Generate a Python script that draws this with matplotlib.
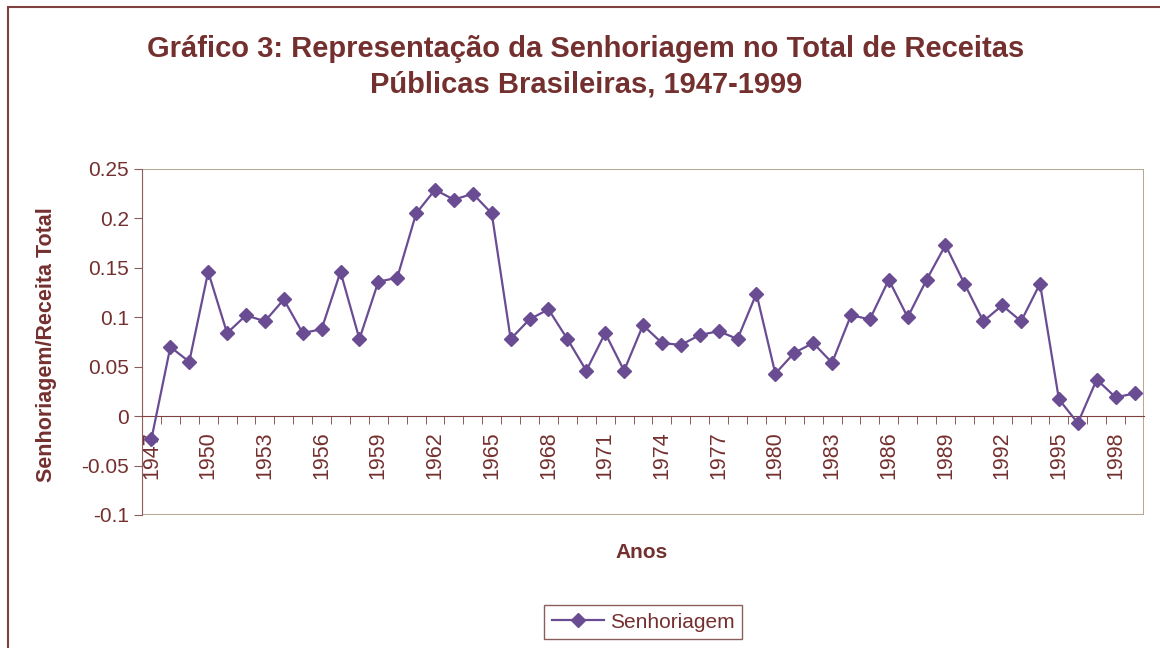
import matplotlib
matplotlib.use("Agg")
import matplotlib.pyplot as plt
import numpy as np
from matplotlib.ticker import FuncFormatter, FixedLocator
from matplotlib.patches import Rectangle

plt.rcParams['font.family'] = ['Liberation Sans', 'DejaVu Sans']

# Datos: senhoriagem / receita total, 1947-1999
anos = list(range(1947, 2000))
senhoriagem = [
    -0.023, 0.070, 0.055, 0.146, 0.084, 0.102, 0.096, 0.118, 0.084, 0.088,
    0.146, 0.078, 0.136, 0.140, 0.205, 0.229, 0.219, 0.225, 0.205, 0.078,
    0.098, 0.108, 0.078, 0.046, 0.084, 0.046, 0.092, 0.074, 0.072, 0.082,
    0.086, 0.078, 0.124, 0.043, 0.064, 0.074, 0.054, 0.102, 0.098, 0.138,
    0.100, 0.138, 0.173, 0.134, 0.096, 0.112, 0.096, 0.134, 0.017, -0.007,
    0.037, 0.019, 0.023,
]

titulo = "Gráfico 3: Representação da Senhoriagem no Total de Receitas\nPúblicas Brasileiras, 1947-1999"
granate = '#74302F'
morado = '#6A4C93'

fig = plt.figure(figsize=(11.6, 6.48), dpi=100)
ax = fig.add_axes([142/1160, 1-515/648, (1144-142)/1160, (515-169)/648])

x = np.arange(len(anos))
ax.plot(x, senhoriagem, color=morado, marker='D', markersize=7.5, linewidth=1.6,
        label='Senhoriagem', zorder=5, clip_on=False)

ax.set_xlim(-0.5, len(anos) - 0.5)
ax.set_ylim(-0.1, 0.25)
ax.set_yticks(np.arange(-0.1, 0.2501, 0.05))
ax.yaxis.set_major_formatter(FuncFormatter(lambda v, p: f'{round(v, 2):g}'))

# eje de categorías cruzando en cero
ax.spines['bottom'].set_position(('data', 0))
ax.spines['bottom'].set_color('#7F4040')
ax.spines['left'].set_color('#8B5E5E')
ax.spines['top'].set_visible(False)
ax.spines['right'].set_visible(False)
ax.add_patch(Rectangle((0, 0), 1, 1, transform=ax.transAxes, fill=False,
                       edgecolor='#B8A898', linewidth=1.5, zorder=1))

ax.set_xticks(x[::3])
ax.set_xticklabels([str(a) for a in anos[::3]], rotation=90)
ax.xaxis.set_minor_locator(FixedLocator(np.arange(0.5, len(anos) - 0.5, 1)))
ax.tick_params(axis='x', which='major', length=0, pad=11, labelsize=15.5, labelcolor=granate)
ax.tick_params(axis='x', which='minor', length=6, color='#7F4040', direction='out')
ax.tick_params(axis='y', length=6, color='#8B5E5E', labelsize=15, labelcolor=granate)

fig.text(0.505, 1-67/648, titulo, ha='center', va='center', fontsize=21,
         fontweight='bold', color=granate, linespacing=1.35)
fig.text(47/1160, 1-345/648, 'Senhoriagem/Receita Total', rotation=90, ha='center',
         va='center', fontsize=15.5, fontweight='bold', color=granate)
fig.text(642/1160, 1-553/648, 'Anos', ha='center', va='center', fontsize=15,
         fontweight='bold', color=granate)

leg = fig.legend(loc='center', bbox_to_anchor=(643/1160, 1-622/648), fontsize=15,
                 fancybox=False, framealpha=1, edgecolor='#8B5E5E', handlelength=2.5,
                 handletextpad=0.3, borderpad=0.35, borderaxespad=0)
for t in leg.get_texts():
    t.set_color(granate)

# borde del área del gráfico
fig.patches.append(Rectangle((8/1160, -0.1), 1.2, 1-7/648+0.1, transform=fig.transFigure,
                             fill=False, edgecolor='#7F4040', linewidth=1.5))

fig.savefig('out.png', dpi=100)
